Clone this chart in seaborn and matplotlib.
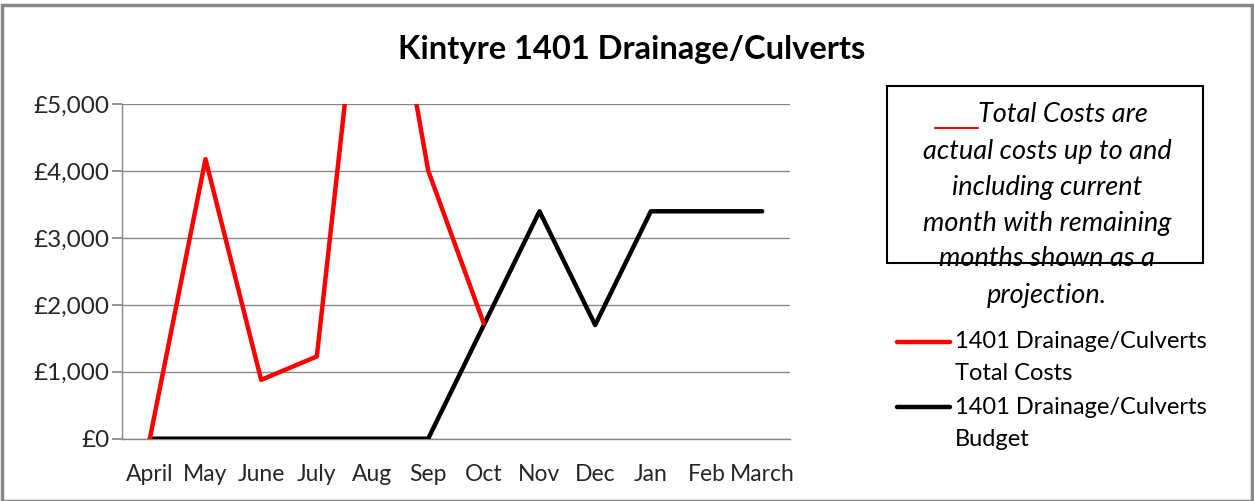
import matplotlib
matplotlib.use("Agg")
import matplotlib.pyplot as plt
import seaborn as sns
import pandas as pd
from matplotlib.patches import Rectangle
from matplotlib.lines import Line2D
from matplotlib.ticker import FuncFormatter

months = ["April", "May", "June", "July", "Aug", "Sep", "Oct", "Nov", "Dec", "Jan", "Feb", "March"]
total_costs = [0, 4180, 880, 1230, 8750, 4010, 1720]
budget = [0, 0, 0, 0, 0, 0, 1700, 3400, 1700, 3400, 3400, 3400]

sns.set_theme(style="white")
plt.rcParams['font.family'] = ['Lato', 'DejaVu Sans']

W, H = 1254, 501
fig = plt.figure(figsize=(W / 100, H / 100), dpi=100)
ax = fig.add_axes([122 / W, 1 - 438.7 / H, (790 - 122) / W, (438.7 - 104.3) / H])

df_t = pd.DataFrame({"x": range(len(total_costs)), "y": total_costs})
df_b = pd.DataFrame({"x": range(len(budget)), "y": budget})
sns.lineplot(data=df_b, x="x", y="y", ax=ax, color="black", linewidth=3.2, sort=False, zorder=3)
sns.lineplot(data=df_t, x="x", y="y", ax=ax, color="#ff0000", linewidth=3.2, sort=False, zorder=4)

ax.set_xlim(-0.5, 11.5)
ax.set_ylim(0, 5000)
ax.set_yticks([0, 1000, 2000, 3000, 4000, 5000])
ax.yaxis.set_major_formatter(FuncFormatter(lambda v, p: "£{:,.0f}".format(v)))
ax.set_xticks(range(12))
ax.set_xticklabels(months)
ax.set_xlabel("")
ax.set_ylabel("")
ax.grid(axis="y", color="#878787", linewidth=1.0)
ax.set_axisbelow(True)
for s in ["top", "right"]:
    ax.spines[s].set_visible(False)
for s in ["left", "bottom"]:
    ax.spines[s].set_color("#878787")
    ax.spines[s].set_linewidth(1.0)
ax.tick_params(axis="y", which="both", left=True, length=7, color="#878787", labelsize=17.5, pad=2)
ax.tick_params(axis="x", bottom=False, labelsize=16.5, pad=12)

fig.text(632 / W, 1 - 50 / H, "Kintyre 1401 Drainage/Culverts", ha="center", va="center",
         fontsize=23.5, fontweight="bold", color="black")

# note box
fig.patches.append(Rectangle((887 / W, 1 - 263 / H), (1203 - 887) / W, (263 - 86) / H,
                             transform=fig.transFigure, fill=False, edgecolor="black", linewidth=1.5))
fig.lines.append(Line2D([935 / W, 978 / W], [1 - 128 / H, 1 - 128 / H], transform=fig.transFigure,
                        color="#ff0000", linewidth=1.5))
fig.text(978 / W, 1 - 115 / H, "Total Costs are", ha="left", va="center", fontsize=19.5, style="italic", color="black")
lines = ["actual costs up to and", "including current", "month with remaining",
         "months shown as a", "projection."]
ys = [152, 187, 223, 258, 295]
for t, yy in zip(lines, ys):
    fig.text(1047 / W, 1 - yy / H, t, ha="center", va="center", fontsize=19.5, style="italic", color="black")

# legend
fig.lines.append(Line2D([897 / W, 950 / W], [1 - 342 / H, 1 - 342 / H], transform=fig.transFigure,
                        color="#ff0000", linewidth=3.2))
fig.lines.append(Line2D([897 / W, 950 / W], [1 - 407 / H, 1 - 407 / H], transform=fig.transFigure,
                        color="black", linewidth=3.2))
fig.text(955 / W, 1 - 342 / H, "1401 Drainage/Culverts", ha="left", va="center", fontsize=17, color="black")
fig.text(955 / W, 1 - 374 / H, "Total Costs", ha="left", va="center", fontsize=17, color="black")
fig.text(955 / W, 1 - 407 / H, "1401 Drainage/Culverts", ha="left", va="center", fontsize=17, color="black")
fig.text(955 / W, 1 - 439 / H, "Budget", ha="left", va="center", fontsize=17, color="black")

# outer border
fig.patches.append(Rectangle((2 / W, 0), (W - 4) / W, (H - 5) / H, transform=fig.transFigure,
                             fill=False, edgecolor="#878787", linewidth=2.5))

fig.savefig("out.png", dpi=100)
